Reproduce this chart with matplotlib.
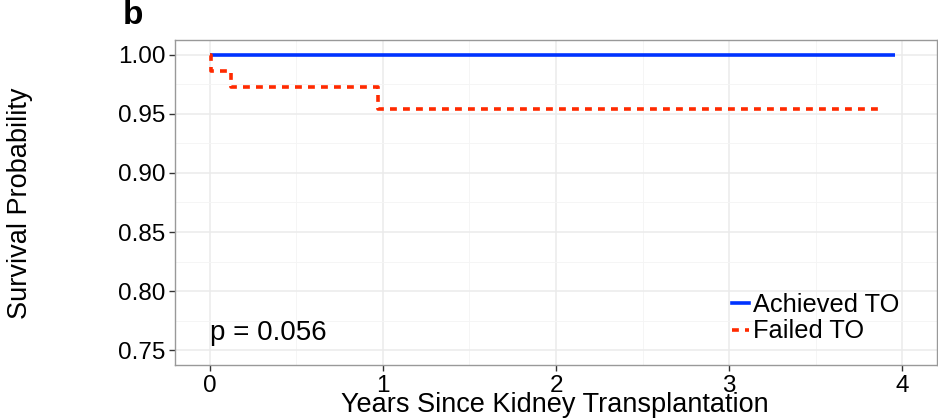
import matplotlib
matplotlib.use("Agg")
import matplotlib.pyplot as plt
from matplotlib.lines import Line2D

plt.rcParams['font.family'] = ['Liberation Sans', 'DejaVu Sans']

# Data (Kaplan-Meier step curves)
achieved_t = [0.0, 3.96]
achieved_s = [1.0, 1.0]
failed_t = [0.0, 0.005, 0.125, 0.975, 3.87]
failed_s = [1.0, 0.986, 0.973, 0.954, 0.954]
xticks = [0, 1, 2, 3, 4]
yticks = [0.75, 0.80, 0.85, 0.90, 0.95, 1.00]
ytick_labels = ["0.75", "0.80", "0.85", "0.90", "0.95", "1.00"]
legend_labels = ["Achieved TO", "Failed TO"]
p_text = "p = 0.056"

BLUE = '#0033FF'
RED = '#FF2A00'
DASH = (0, (1.9, 1.7))

fig = plt.figure(figsize=(9.38, 4.19), dpi=100)
ax = fig.add_axes([175/938, 1-365/419, (937-175)/938, (365-40)/419])

ax.step(achieved_t, achieved_s, where='post', color=BLUE, lw=2.6, solid_capstyle='butt')
ax.step(failed_t, failed_s, where='post', color=RED, lw=2.6, linestyle=DASH)

ax.set_xlim(-0.2, 4.2)
ax.set_ylim(0.7375, 1.0125)
ax.set_xticks(xticks)
ax.set_yticks(yticks)
ax.set_yticklabels(ytick_labels)
ax.set_xticks([0.5, 1.5, 2.5, 3.5], minor=True)
ax.set_yticks([0.775, 0.825, 0.875, 0.925, 0.975], minor=True)
ax.grid(True, which='major', color='#EBEBEB', lw=1.1)
ax.grid(True, which='minor', color='#F4F4F4', lw=0.6)
ax.set_axisbelow(True)
ax.tick_params(axis='both', which='major', labelsize=17.5, length=4, color='#333333', width=1, pad=3)
ax.tick_params(axis='x', which='major', pad=3)
ax.tick_params(axis='both', which='minor', length=0)
for s in ax.spines.values():
    s.set_color('#999999')
    s.set_linewidth(1)

fig.text(555/938, 1-404.5/419, "Years Since Kidney Transplantation", fontsize=19.5, ha='center', va='center')
fig.text(20/938, 1-203/419, "Survival Probability", rotation=90, fontsize=19.5, ha='center', va='center')
fig.text(123/938, 1-16/419, "b", fontsize=24, fontweight='bold', ha='left', va='center')

ax.text(0.0, 0.765, p_text, fontsize=20, ha='left', va='center')

handles = [Line2D([0], [0], color=BLUE, lw=2.6),
           Line2D([0], [0], color=RED, lw=2.6, linestyle=DASH)]
leg = ax.legend(handles, legend_labels, loc='lower right', bbox_to_anchor=(0.964, 0.035),
                fontsize=18.3, frameon=False, handlelength=0.7, handletextpad=0.15,
                labelspacing=0.1, borderaxespad=0)

fig.savefig("out.png", dpi=100)
